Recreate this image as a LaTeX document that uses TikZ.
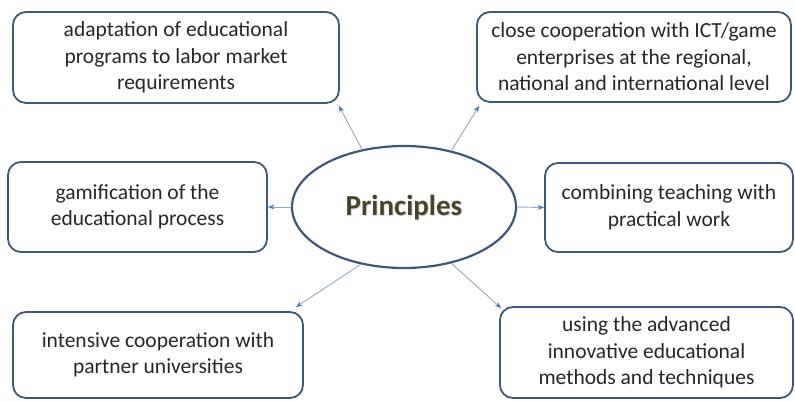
\documentclass[tikz,border=0pt]{standalone}
\usepackage{fontspec}
\setmainfont{Carlito}
\usetikzlibrary{arrows.meta,shapes.geometric}
\definecolor{boxline}{HTML}{3E5878}
\definecolor{linkline}{HTML}{93A7C0}
\definecolor{tipblue}{HTML}{4F78B0}
\definecolor{bodytext}{HTML}{262626}
\definecolor{titletext}{HTML}{494429}
\begin{document}
\begin{tikzpicture}[x=1pt,y=-1pt,
  idea/.style={draw=boxline, line width=1.8pt, rounded corners=13pt,
    rectangle, align=center, text=bodytext, inner sep=0pt,
    font=\fontsize{21.5}{26.5}\selectfont},
  hub/.style={draw=boxline, line width=2.2pt, ellipse, inner sep=0pt,
    minimum width=224pt, minimum height=122pt},
  link/.style={draw=linkline, line width=0.9pt,
    -{Stealth[length=6.5pt,width=5pt,color=tipblue]}}]
\useasboundingbox (0,0) rectangle (795,400);

\node[idea, minimum width=326pt, minimum height=91pt] (b1) at (176,57.5)
  {adaptation of educational\\programs to labor market\\requirements};
\node[idea, minimum width=314pt, minimum height=90pt] (b2) at (634,57)
  {close cooperation with ICT/game\\enterprises at the regional,\\national and international level};
\node[idea, minimum width=259pt, minimum height=90pt] (b3) at (137.5,207)
  {gamification of the\\educational process};
\node[idea, minimum width=248pt, minimum height=89pt] (b4) at (669,207.5)
  {combining teaching with\\practical work};
\node[idea, minimum width=290pt, minimum height=86pt] (b5) at (158,355)
  {intensive cooperation with\\partner universities};
\node[idea, minimum width=293pt, minimum height=91pt] (b6) at (646.5,352.5)
  {using the advanced\\innovative educational\\methods and techniques};

\node[hub] (P) at (404,207) {};
\node[text=black!30, opacity=0.45, font=\fontsize{29}{31}\selectfont\bfseries]
  (Pshadow) at (405,209) {Principles};
\node[text=titletext, font=\fontsize{29}{31}\selectfont\bfseries]
  (Ptext) at (404,208) {Principles};

\draw[link] (P.126) -- ([xshift=-1pt,yshift=-2pt]b1.south east);
\draw[link] (P.50) -- ([xshift=3pt,yshift=-3pt]b2.south west);
\draw[link] (P.west) -- (b3.east);
\draw[link] (P.east) -- (b4.west);
\draw[link] (P.233) -- ([xshift=-8pt,yshift=4pt]b5.north east);
\draw[link] (P.310) -- ([xshift=2pt,yshift=-2pt]b6.north west);
\end{tikzpicture}
\end{document}
